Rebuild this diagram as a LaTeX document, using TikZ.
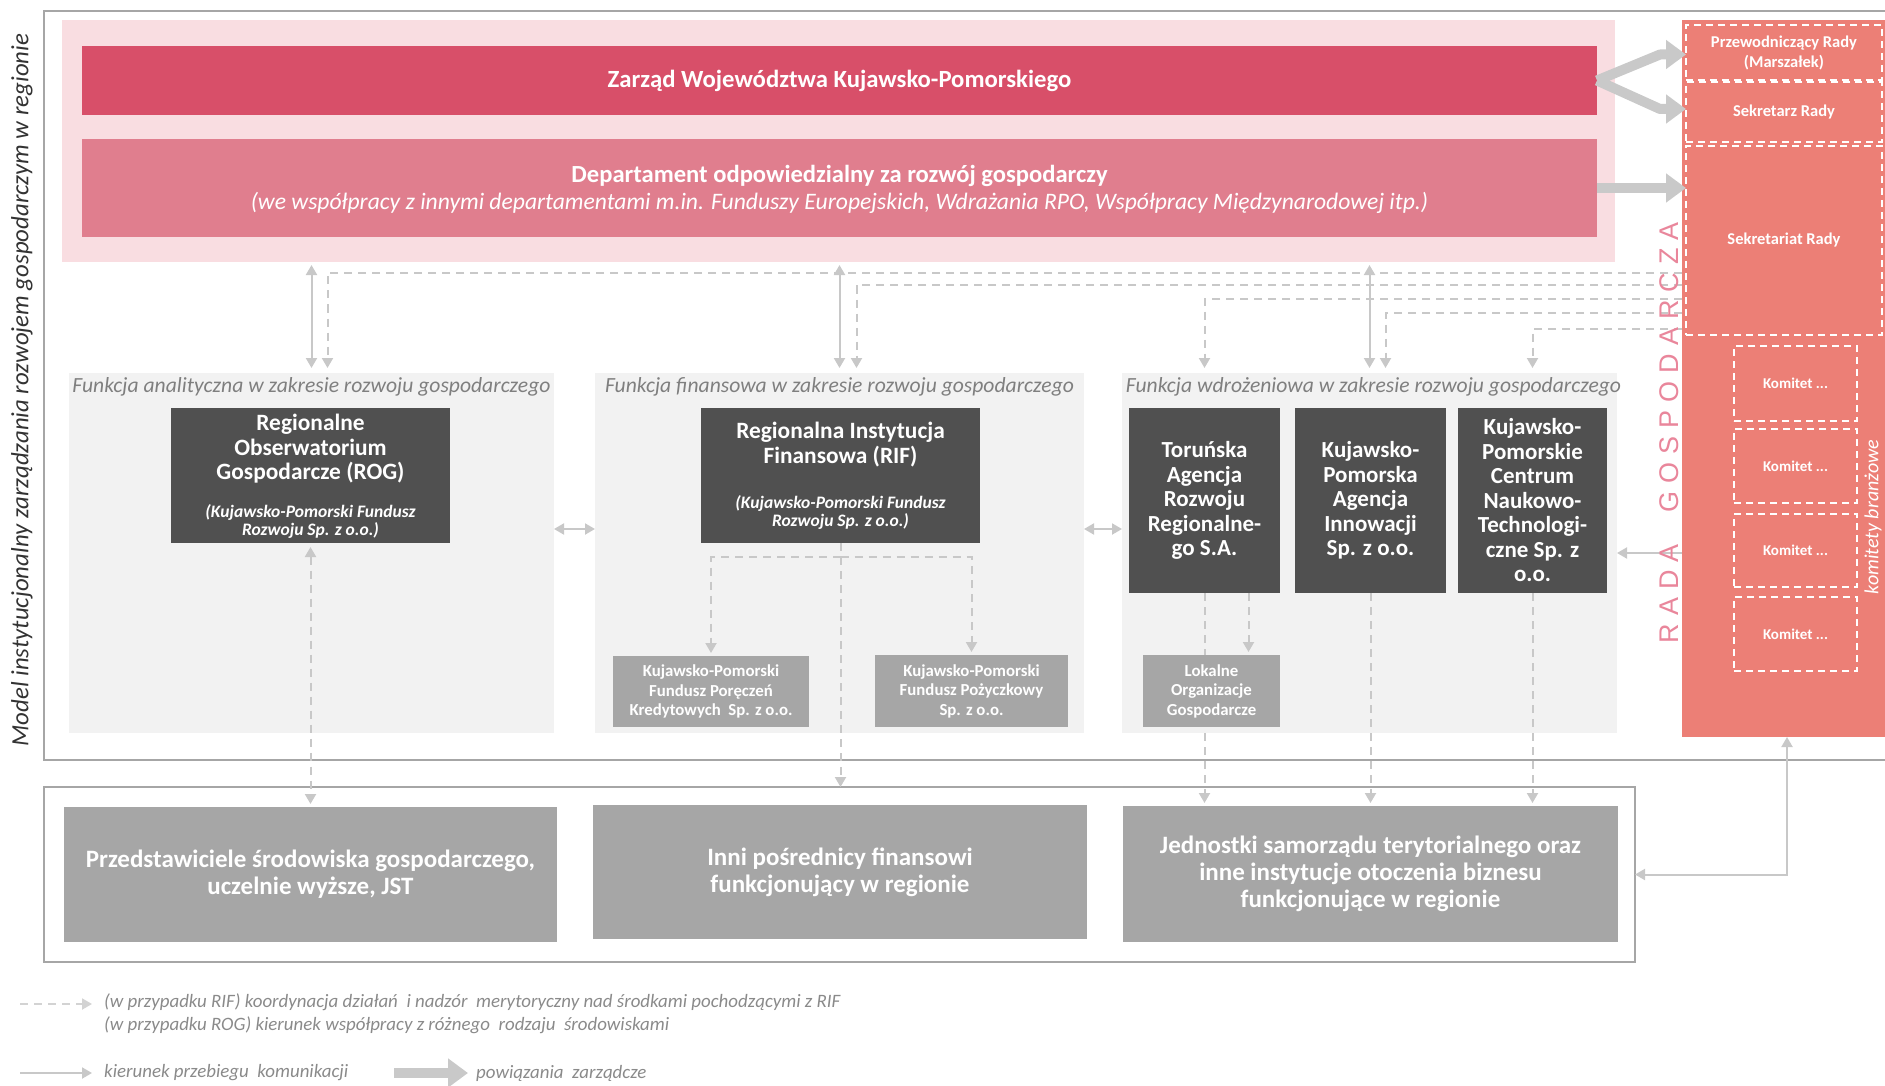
\documentclass[tikz,border=0pt]{standalone}
\usepackage{fontspec}
\setmainfont{Carlito}
\newfontfamily\arialf{Liberation Sans}
\usetikzlibrary{arrows.meta,calc}
\newcommand\fsz[2]{\fontsize{#1}{#2}\selectfont}
\definecolor{cpinkbg}{HTML}{F9DDE1}
\definecolor{czarzad}{HTML}{D84F69}
\definecolor{cdept}{HTML}{E07E8E}
\definecolor{crada}{HTML}{EC7F76}
\definecolor{cradatxt}{HTML}{E9869B}
\definecolor{cpanel}{HTML}{F2F2F2}
\definecolor{cdark}{HTML}{505050}
\definecolor{cmid}{HTML}{A6A6A6}
\definecolor{cconn}{HTML}{C8C8C8}
\definecolor{cmgmt}{HTML}{C9C9C9}
\definecolor{cframe}{HTML}{A6A6A6}
\definecolor{cttl}{HTML}{7F7F7F}
\definecolor{cleg}{HTML}{8A8A8A}
\definecolor{cleft}{HTML}{333333}
\pgfdeclarelayer{bg}
\pgfdeclarelayer{cn}
\pgfsetlayers{bg,cn,main}
\tikzset{
  blk/.style={rectangle, inner sep=0pt, outer sep=0pt, align=center, text=white},
  darkb/.style={blk, fill=cdark, font=\bfseries\fsz{23}{24.5}},
  midb/.style={blk, fill=cmid, font=\bfseries\fsz{16.8}{19.5}},
  botb/.style={blk, fill=cmid, font=\bfseries\fsz{25}{27}},
  panel/.style={blk, fill=cpanel, minimum height=360pt},
  ptitle/.style={font=\itshape\fsz{21.6}{24}, text=cttl, inner sep=0pt},
  radab/.style={blk, draw=white, dash pattern=on 7pt off 5pt, line width=1.8pt, font=\bfseries\fsz{16.5}{20}},
  solidc/.style={draw=cconn, line width=2pt},
  dashc/.style={draw=cconn, line width=2pt, dash pattern=on 8pt off 6pt},
  mgmt/.style={draw=cmgmt, line width=10pt, line join=round, -{Triangle[width=28pt,length=20pt]}},
  legtxt/.style={font=\itshape\fsz{18.9}{23}, text=cleg, inner sep=0pt, align=left},
}
\begin{document}
\begin{tikzpicture}[x=1pt,y=-1pt,>={Triangle[width=11pt,length=10pt]}]
\useasboundingbox (0,0) rectangle (1885,1086);
\begin{pgfonlayer}{bg}
 \draw[draw=cframe, line width=2.5pt] (1890,11) -- (44,11) -- (44,760) -- (1890,760);
 \node[blk, draw=cframe, line width=2.5pt, minimum width=1591pt, minimum height=175pt] (bframe) at (839.5,874.5) {};
 \node[panel, minimum width=485pt] (p1) at (311.5,553) {};
 \node[panel, minimum width=489pt] (p2) at (839.5,553) {};
 \node[panel, minimum width=495pt] (p3) at (1369.5,553) {};
 \node[blk, fill=cpinkbg, minimum width=1553pt, minimum height=242pt] (pinkbg) at (838.5,141) {};
 \node[blk, fill=crada, minimum width=210pt, minimum height=717pt] (rada) at (1787,378.5) {};
\end{pgfonlayer}

% left title
\node[rotate=90, text=cleft, font=\itshape\fsz{24.8}{27}, inner sep=0pt] (mtitle) at (22,390) {Model instytucjonalny zarządzania rozwojem gospodarczym w regionie};

% top boxes
\node[blk, fill=czarzad, minimum width=1515pt, minimum height=69pt, font=\bfseries\fsz{24.7}{28}] (zarzad) at (839.5,80.5) {Zarząd Województwa Kujawsko-Pomorskiego};
\node[blk, fill=cdept, minimum width=1515pt, minimum height=98pt] (dept) at (839.5,188) {};
\node[blk, font=\bfseries\fsz{24.6}{27}] (dept1) at (839.5,176) {Departament odpowiedzialny za rozwój gospodarczy};
\node[blk, font=\itshape\fsz{23.6}{26}] (dept2) at (839.5,203) {(we współpracy z innymi departamentami m.in. Funduszy Europejskich, Wdrażania RPO, Współpracy Międzynarodowej itp.)};

% Rada
\node[radab, minimum width=196pt, minimum height=55pt] (przew) at (1784,52.5) {Przewodniczący Rady\\(Marszałek)};
\node[radab, minimum width=196pt, minimum height=60pt] (sekr) at (1784,112) {Sekretarz Rady};
\node[radab, minimum width=196pt, minimum height=189pt] (sekrt) at (1784,240.5) {Sekretariat Rady};
\node[radab, minimum width=123pt, minimum height=75pt, font=\bfseries\fsz{15}{18}] (kom1) at (1795.5,383.5) {Komitet ...};
\node[radab, minimum width=123pt, minimum height=74pt, font=\bfseries\fsz{15}{18}] (kom2) at (1795.5,466) {Komitet ...};
\node[radab, minimum width=123pt, minimum height=73pt, font=\bfseries\fsz{15}{18}] (kom3) at (1795.5,550.5) {Komitet ...};
\node[radab, minimum width=123pt, minimum height=74pt, font=\bfseries\fsz{15}{18}] (kom4) at (1795.5,634) {Komitet ...};
\node[rotate=90, text=white, font=\itshape\fsz{20}{24}, inner sep=0pt] (kombr) at (1873,517) {komitety branżowe};
\node[rotate=90, text=cradatxt, font=\arialf\fsz{27}{30}, inner sep=0pt] (radatitle) at (1669,432.5) {\makebox[421pt]{R\hfill A\hfill D\hfill A\hfill\hfill\hfill\hfill G\hfill O\hfill S\hfill P\hfill O\hfill D\hfill A\hfill R\hfill C\hfill Z\hfill A}};

% panel titles
\node[ptitle] (t1) at ($(p1.north)+(0,14)$) {Funkcja analityczna w zakresie rozwoju gospodarczego};
\node[ptitle] (t2) at ($(p2.north)+(0,14)$) {Funkcja finansowa w zakresie rozwoju gospodarczego};
\node[ptitle] (t3) at ($(p3.north)+(4,14)$) {Funkcja wdrożeniowa w zakresie rozwoju gospodarczego};

% dark boxes
\node[darkb, minimum width=279pt, minimum height=135pt] (rog) at (310.5,475.5) {};
\node[blk, font=\bfseries\fsz{23.4}{24.5}] (rogt) at ($(rog.north)+(0,41)$) {Regionalne\\Obserwatorium\\Gospodarcze (ROG)};
\node[blk, font=\bfseries\itshape\fsz{17.5}{18}] (rogs) at ($(rog.north)+(0,113)$) {(Kujawsko-Pomorski Fundusz\\Rozwoju Sp. z o.o.)};
\node[darkb, minimum width=279pt, minimum height=135pt] (rif) at (840.5,475.5) {};
\node[blk, font=\bfseries\fsz{23.4}{24.5}] (rift) at ($(rif.north)+(0,36.5)$) {Regionalna Instytucja\\Finansowa (RIF)};
\node[blk, font=\bfseries\itshape\fsz{17.5}{18}] (rifs) at ($(rif.north)+(0,104.5)$) {(Kujawsko-Pomorski Fundusz\\Rozwoju Sp. z o.o.)};
\node[darkb, minimum width=151pt, minimum height=185pt] (tarr) at (1204.5,500.5) {Toruńska\\Agencja\\Rozwoju\\Regionalne-\\go S.A.};
\node[darkb, minimum width=151pt, minimum height=185pt] (kpai) at (1370.5,500.5) {Kujawsko-\\Pomorska\\Agencja\\Innowacji\\Sp. z o.o.};
\node[darkb, minimum width=149pt, minimum height=185pt] (kpcnt) at (1532.5,500.5) {Kujawsko-\\Pomorskie\\Centrum\\Naukowo-\\Technologi-\\czne Sp. z\\o.o.};

% mid boxes
\node[midb, minimum width=196pt, minimum height=71pt] (kpfpk) at (711,691.5) {Kujawsko-Pomorski\\Fundusz Poręczeń\\Kredytowych\ \ Sp. z o.o.};
\node[midb, minimum width=193pt, minimum height=72pt] (kpfp) at (971.5,691) {Kujawsko-Pomorski\\Fundusz Pożyczkowy\\Sp. z o.o.};
\node[midb, minimum width=137pt, minimum height=72pt] (lok) at (1211.5,691) {Lokalne\\Organizacje\\Gospodarcze};

% bottom boxes
\node[botb, minimum width=493pt, minimum height=135pt] (przed) at (310.5,874.5) {Przedstawiciele środowiska gospodarczego,\\uczelnie wyższe, JST};
\node[botb, minimum width=494pt, minimum height=134pt] (inni) at (840,872) {Inni pośrednicy finansowi\\funkcjonujący w regionie};
\node[botb, minimum width=495pt, minimum height=136pt] (jedn) at (1370.5,874) {Jednostki samorządu terytorialnego oraz\\inne instytucje otoczenia biznesu\\funkcjonujące w regionie};

% connectors
\begin{pgfonlayer}{cn}
 \draw[solidc,<->,shorten <=3pt,shorten >=5pt] (pinkbg.south -| p1.north) -- (p1.north);
 \draw[solidc,<->,shorten <=3pt,shorten >=5pt] (pinkbg.south -| p2.north) -- (p2.north);
 \draw[solidc,<->,shorten <=3pt,shorten >=5pt] (pinkbg.south -| p3.north) -- (p3.north);
 \draw[dashc,->,shorten >=5pt] (rada.west |- 0,273) -| ([xshift=16pt]p1.north);
 \draw[dashc,->,shorten >=5pt] (rada.west |- 0,285) -| ([xshift=17pt]p2.north);
 \draw[dashc,->,shorten >=5pt] (rada.west |- 0,299) -| (tarr.north |- p3.north);
 \draw[dashc,->,shorten >=5pt] (rada.west |- 0,313) -| ([xshift=16pt]p3.north);
 \draw[dashc,->,shorten >=5pt] (rada.west |- 0,329) -| (kpcnt.north |- p3.north);
 \draw[solidc,<->] ([yshift=24pt]p1.east) -- ([yshift=24pt]p2.west);
 \draw[solidc,<->] ([yshift=24pt]p2.east) -- ([yshift=24pt]p3.west);
 \draw[solidc,->] (rada.west |- p3.east) -- (p3.east);
 \draw[solidc,<->] (bframe.east) -| (rada.south);
 \draw[dashc,<->,shorten <=4pt,shorten >=3pt] (rog.south) -- (przed.north);
 \draw[dashc,->] (rif.south) -- (rif.south |- bframe.north);
 \coordinate (rifj) at ($(rif.south)+(0,14)$);
 \draw[dashc,->,shorten >=3pt] (rifj) -| (kpfpk.north);
 \draw[dashc,->,shorten >=3pt] (rifj) -| (kpfp.north);
 \draw[dashc,->,shorten >=3pt] (tarr.south) -- (tarr.south |- jedn.north);
 \draw[dashc,->,shorten >=3pt] ([xshift=44pt]tarr.south) -- ([xshift=44pt]tarr.south |- lok.north);
 \draw[dashc,->,shorten >=3pt] (kpai.south) -- (kpai.south |- jedn.north);
 \draw[dashc,->,shorten >=3pt] (kpcnt.south) -- (kpcnt.south |- jedn.north);
\end{pgfonlayer}

% management arrows
\draw[mgmt] (zarzad.east) -- ($(przew.west)+(-26,2)$) -- ($(przew.west)+(0,2)$);
\draw[mgmt] (zarzad.east) -- ($(sekr.west)+(-26,-3)$) -- ($(sekr.west)+(0,-3)$);
\draw[mgmt] (dept.east) -- (sekrt.west |- dept.east);

% legend
\coordinate (l1a) at (20,1004);
\coordinate (l1b) at (92,1004);
\draw[dashc,draw=cconn!80,->] (l1a) -- (l1b);
\node[legtxt, anchor=west] (lt1) at (104,1013.5) {(w przypadku RIF) koordynacja działań\ \ i nadzór\ \ merytoryczny nad środkami pochodzącymi z RIF\\(w przypadku ROG) kierunek współpracy z różnego\ \ rodzaju\ \ środowiskami};
\coordinate (l2a) at (20,1073);
\coordinate (l2b) at (92,1073);
\draw[solidc,->] (l2a) -- (l2b);
\node[legtxt, anchor=west] (lt2) at (104,1073) {kierunek przebiegu\ \ komunikacji};
\coordinate (l3a) at (394,1073);
\coordinate (l3b) at (468,1073);
\draw[mgmt] (l3a) -- (l3b);
\node[legtxt, anchor=west] (lt3) at (476,1073) {powiązania\ \ zarządcze};
\end{tikzpicture}
\end{document}
